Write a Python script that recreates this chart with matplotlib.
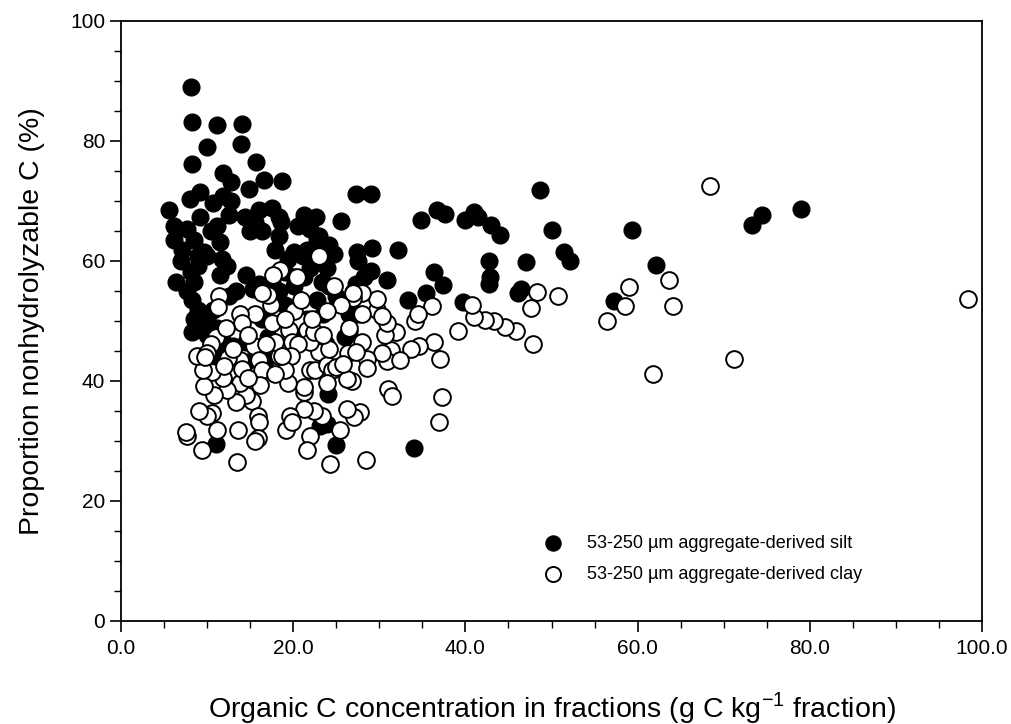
import matplotlib
matplotlib.use('Agg')
import matplotlib.pyplot as plt
from matplotlib.ticker import MultipleLocator, FormatStrFormatter

plt.rcParams['font.family'] = ['Liberation Sans', 'DejaVu Sans']

# 53-250 um aggregate-derived silt (filled)
silt_x = [8.1, 8.3, 11.1, 14.0, 10.0, 13.9, 8.3, 15.7, 16.6, 18.7, 11.9, 12.8, 14.9, 9.2,
          8.0, 5.6, 6.1, 6.2, 6.4, 7.0, 27.3, 29.0, 48.7, 34.9, 36.7, 37.6, 40.0, 41.0,
          41.5, 43.0, 44.0, 50.0, 51.5, 52.1, 47.0, 42.7, 42.9, 42.7, 46.1, 46.4, 57.3,
          59.4, 62.1, 73.3, 74.4, 79.0, 39.7, 33.3, 30.9, 32.2, 29.2, 29.0, 28.2, 36.3,
          35.4, 37.4, 25.6, 34.0, 25.0, 11.0, 24.0, 23.1, 23.9, 23.8, 27.4, 27.5, 27.3,
          26.9, 26.5, 27.5, 26.5, 26.0, 24.2, 24.7, 23.9, 22.6, 22.0, 23.0, 22.8, 21.3,
          20.5, 21.6, 21.1, 22.2, 20.1, 19.4, 18.3, 17.5, 18.6, 16.0, 15.6, 16.4, 18.3,
          17.9, 19.0, 17.5, 16.0, 14.5, 15.3, 13.4, 12.6, 11.7, 12.3, 11.5, 12.6, 12.8,
          11.9, 10.7, 11.1, 10.4, 11.5, 9.6, 10.0, 8.5, 8.9, 8.1, 8.5, 7.7, 8.3, 8.9,
          8.5, 8.2, 9.2, 10.0, 10.7, 11.1, 10.0, 11.9, 11.9, 13.0, 14.5, 10.7, 14.5,
          17.1, 17.5, 16.4, 19.0, 18.3, 16.8, 20.1, 21.6, 22.8, 23.5, 25.0, 14.4, 15.0,
          9.2, 7.7, 7.1, 8.9, 20.1, 21.3, 23.4, 24.1, 22.0, 20.1]
silt_y = [89.0, 83.1, 82.7, 82.8, 79.0, 79.5, 76.2, 76.5, 73.5, 73.3, 74.6, 73.1, 72.0, 71.5,
          70.4, 68.5, 65.8, 63.5, 56.5, 60.0, 71.2, 71.2, 71.9, 66.9, 68.5, 67.9, 66.9, 68.1,
          67.3, 66.0, 64.4, 65.2, 61.5, 60.0, 59.8, 60.0, 57.3, 56.2, 54.6, 55.4, 53.3,
          65.2, 59.4, 66.0, 67.7, 68.6, 53.1, 53.5, 56.8, 61.8, 62.2, 58.3, 57.3, 58.2,
          54.6, 56.0, 66.7, 28.8, 29.4, 29.5, 37.9, 32.5, 32.8, 46.2, 61.5, 60.0, 56.2,
          54.8, 51.2, 51.2, 48.1, 47.3, 62.7, 61.2, 58.8, 67.3, 65.4, 64.2, 63.5, 67.7,
          65.9, 61.9, 60.8, 60.4, 61.5, 60.4, 67.3, 68.8, 66.5, 68.5, 66.5, 65.0, 64.2,
          61.9, 58.1, 56.5, 56.2, 57.7, 55.4, 55.0, 54.2, 60.4, 59.2, 57.7, 67.7, 70.0,
          70.8, 69.6, 65.8, 65.0, 63.1, 61.5, 60.8, 63.5, 60.8, 58.1, 56.5, 55.0, 53.5, 51.9,
          50.4, 48.2, 49.6, 50.4, 51.9, 48.8, 47.7, 46.5, 45.0, 45.8, 46.5, 43.5, 43.1,
          47.3, 49.6, 50.4, 52.7, 55.0, 43.5, 48.1, 50.4, 53.5, 51.2, 54.2, 67.3, 65.0,
          67.3, 65.4, 61.9, 59.2, 55.8, 57.3, 56.5, 55.8, 58.8, 57.3]

# 53-250 um aggregate-derived clay (open)
clay_x = [68.4, 98.4, 71.2, 61.8, 63.6, 64.1, 59.0, 58.5, 56.4, 50.7, 48.3, 47.6, 47.9, 45.9,
          44.6, 43.3, 42.3, 41.0, 40.8, 39.1, 37.0, 37.3, 36.9, 36.4, 36.1, 34.2, 34.5,
          34.6, 33.7, 31.9, 31.4, 30.9, 31.0, 31.5, 32.4, 30.7, 30.9, 29.7, 29.7, 30.3,
          28.6, 28.6, 28.4, 27.8, 27.1, 28.0, 28.0, 26.9, 26.9, 25.6, 24.7, 26.4, 26.8,
          26.2, 26.2, 25.4, 24.3, 23.4, 22.4, 21.9, 21.6, 21.3, 21.3, 21.3, 21.9, 22.5,
          23.0, 23.9, 24.5, 25.0, 25.8, 23.9, 20.5, 20.1, 20.9, 20.4, 18.5, 17.7, 23.9,
          21.6, 22.0, 22.4, 19.5, 19.9, 20.5, 19.8, 19.4, 19.0, 19.6, 19.2, 19.9, 18.4,
          17.9, 17.5, 17.4, 17.1, 16.4, 15.6, 15.4, 16.0, 16.4, 16.2, 15.2, 14.5, 15.9,
          16.0, 15.9, 15.6, 13.6, 13.5, 13.4, 13.8, 13.8, 14.1, 13.8, 14.1, 12.4, 12.3,
          11.9, 11.4, 11.3, 11.0, 10.4, 10.6, 10.8, 11.1, 10.6, 10.0, 9.6, 9.5, 9.0, 9.4,
          8.8, 7.7, 7.5, 10.0, 26.5, 27.3, 24.2, 22.2, 12.2, 16.8, 18.7, 17.9, 13.0, 14.7,
          23.5, 28.0, 30.3, 19.0, 23.0, 12.0, 9.8, 14.8]
clay_y = [72.5, 53.7, 43.6, 41.2, 56.8, 52.5, 55.6, 52.5, 50.0, 54.1, 54.8, 52.1, 46.2, 48.3,
          49.0, 50.0, 50.2, 50.6, 52.7, 48.3, 43.6, 37.3, 33.2, 46.5, 52.5, 50.0, 51.2,
          45.8, 45.4, 48.1, 45.2, 43.3, 38.6, 37.5, 43.5, 47.7, 49.6, 51.9, 53.6, 44.6,
          43.7, 42.1, 26.9, 34.8, 34.0, 46.5, 54.6, 53.8, 54.6, 52.7, 55.8, 44.6, 40.0,
          40.4, 35.4, 31.9, 26.2, 34.2, 35.0, 30.8, 28.5, 35.4, 38.1, 39.0, 41.9, 41.9,
          44.8, 42.7, 41.9, 42.3, 42.8, 39.6, 50.2, 51.7, 53.5, 57.3, 58.5, 57.7, 51.7,
          48.5, 46.5, 48.1, 48.5, 46.5, 46.2, 44.2, 39.6, 41.9, 34.2, 31.9, 33.1, 44.2,
          46.5, 49.6, 52.7, 54.4, 54.6, 51.2, 45.8, 43.5, 41.9, 39.4, 36.6, 37.7, 34.2,
          33.1, 30.5, 30.0, 31.9, 26.5, 36.5, 39.6, 43.5, 42.0, 51.2, 49.6, 43.8, 38.5,
          40.5, 54.2, 52.3, 47.3, 46.2, 41.5, 37.7, 31.9, 34.6, 34.2, 39.2, 41.9, 35.0, 28.5,
          44.2, 30.8, 31.5, 44.6, 48.8, 44.8, 45.4, 50.4, 48.8, 46.2, 44.2, 41.2, 45.4, 47.7,
          47.7, 51.2, 50.8, 50.4, 60.8, 42.5, 44.0, 40.5]

silt_label = '53-250 \u00b5m aggregate-derived silt'
clay_label = '53-250 \u00b5m aggregate-derived clay'

fig = plt.figure(figsize=(10.11, 7.24), dpi=100)
ax = fig.add_axes([0.1197, 0.1423, 0.8516, 0.8287])

ax.scatter(silt_x, silt_y, s=145, c='black', edgecolors='black', linewidths=1.0,
           label=silt_label, zorder=2)
ax.scatter(clay_x, clay_y, s=145, c='white', edgecolors='black', linewidths=1.4,
           label=clay_label, zorder=3)

ax.set_xlim(0, 100)
ax.set_ylim(0, 100)
ax.xaxis.set_major_locator(MultipleLocator(20))
ax.xaxis.set_minor_locator(MultipleLocator(5))
ax.yaxis.set_major_locator(MultipleLocator(20))
ax.yaxis.set_minor_locator(MultipleLocator(5))
ax.xaxis.set_major_formatter(FormatStrFormatter('%.1f'))
ax.yaxis.set_major_formatter(FormatStrFormatter('%d'))
ax.tick_params(which='major', direction='out', length=8, width=1.2, labelsize=15)
ax.tick_params(which='minor', direction='out', length=5, width=1.0)
ax.tick_params(axis='x', pad=5)
for sp in ax.spines.values():
    sp.set_linewidth(1.3)

ax.set_xlabel(r'Organic C concentration in fractions (g C kg$^{\mathregular{-1}}$ fraction)',
              fontsize=20.5, labelpad=23)
ax.set_ylabel('Proportion nonhydrolyzable C (%)', fontsize=20.5, labelpad=18)

ax.legend(loc='upper left', bbox_to_anchor=(0.472, 0.155), frameon=False,
          fontsize=13, handletextpad=0.9, labelspacing=0.75, markerscale=0.9,
          borderaxespad=0)

fig.savefig('out.png', dpi=100)
